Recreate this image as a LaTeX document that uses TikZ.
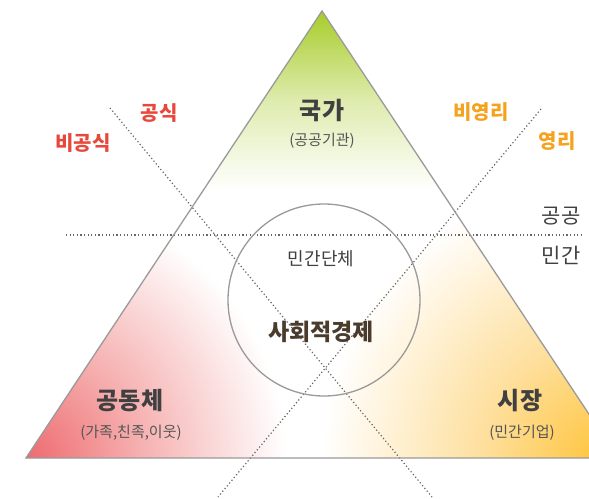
\documentclass[tikz,border=0pt]{standalone}
\usepackage{fontspec}
\setmainfont{Noto Sans CJK KR}
\definecolor{grn}{HTML}{A8CC2A}
\definecolor{redc}{HTML}{EE6B70}
\definecolor{redm}{HTML}{F6B0B0}
\definecolor{yelc}{HTML}{FEC53E}
\definecolor{yelm}{HTML}{FEE0A0}
\definecolor{lred}{HTML}{E8473C}
\definecolor{lorg}{HTML}{F5A21F}
\definecolor{dtxt}{HTML}{404040}
\definecolor{ptxt}{HTML}{555555}
\definecolor{brn}{HTML}{4A3B2C}
\definecolor{edge}{HTML}{9A9A9A}
\definecolor{dotc}{HTML}{666666}
\pgfdeclareradialshading{redglow}{\pgfpoint{0bp}{0bp}}{color(0bp)=(redc); color(11bp)=(redm); color(25bp)=(white); color(50bp)=(white)}
\pgfdeclareradialshading{yelglow}{\pgfpoint{0bp}{0bp}}{color(0bp)=(yelc); color(11bp)=(yelm); color(25bp)=(white); color(50bp)=(white)}
\tikzset{
  outline/.style={draw=edge, line width=1.3pt},
  dotline/.style={draw=dotc, line width=1.2pt, dash pattern=on 1.2pt off 2.4pt},
  bigtxt/.style={font=\fontsize{24}{28}\selectfont\bfseries, text=dtxt},
  subtxt/.style={font=\fontsize{15}{18}\selectfont, text=ptxt},
  redlbl/.style={font=\fontsize{20}{24}\selectfont\bfseries, text=lred},
  orglbl/.style={font=\fontsize{20}{24}\selectfont\bfseries, text=lorg},
  sidelbl/.style={font=\fontsize{21}{24}\selectfont, text=dtxt},
}
\begin{document}
\begin{tikzpicture}[x=1pt,y=-1pt]
\useasboundingbox (0,0) rectangle (589,498);
\coordinate (A) at (322,11);
\coordinate (L) at (26,458);
\coordinate (R) at (618,458);
% fills
\begin{scope}
  \clip (A) -- (L) -- (R) -- cycle;
  \fill[white] (0,0) rectangle (640,470);
  \shade[top color=grn, bottom color=white, middle color=grn!38] (0,11) rectangle (640,190);
  \begin{scope}
    \clip (0,189) rectangle (322,470);
    \shade[shading=redglow] (-234,198) rectangle (286,718);
  \end{scope}
  \begin{scope}
    \clip (322,189) rectangle (640,470);
    \shade[shading=yelglow] (322,180) rectangle (878,736);
  \end{scope}
\end{scope}
% dotted lines
\coordinate (h1) at (66,235);
\coordinate (h2) at (582,235);
\coordinate (d1a) at (110,108);
\coordinate (d1b) at (432,497);
\coordinate (d2a) at (541,109);
\coordinate (d2b) at (218,497);
\draw[dotline] (h1) -- (h2);
\draw[dotline] (d1a) -- (d1b);
\draw[dotline] (d2a) -- (d2b);
% triangle & circle
\draw[outline] (A) -- (L) -- (R) -- cycle;
\node[circle, draw=edge, line width=1.3pt, minimum size=192pt, inner sep=0pt] (C) at (324,300) {};
% texts
\node[bigtxt] (state) at (322,110) {국가};
\node[subtxt] (statesub) at (322,141) {(공공기관)};
\node[bigtxt] (comm) at (130,401) {공동체};
\node[subtxt] (commsub) at (131,433) {(가족,친족,이웃)};
\node[bigtxt] (market) at (520,401) {시장};
\node[subtxt] (marketsub) at (522,433) {(민간기업)};
\node[font=\fontsize{18}{22}\selectfont, text=dtxt] (civil) at (321,259) {민간단체};
\node[font=\fontsize{23}{28}\selectfont\bfseries, text=brn] (soc) at (321,332) {사회적경제};
\node[redlbl] (formal) at (159,113) {공식};
\node[redlbl] (informal) at (83,143) {비공식};
\node[orglbl] (nonprofit) at (481,112) {비영리};
\node[orglbl] (profit) at (557,141) {영리};
\node[sidelbl] (public) at (561,216) {공공};
\node[sidelbl] (private) at (561,255) {민간};
\end{tikzpicture}
\end{document}
